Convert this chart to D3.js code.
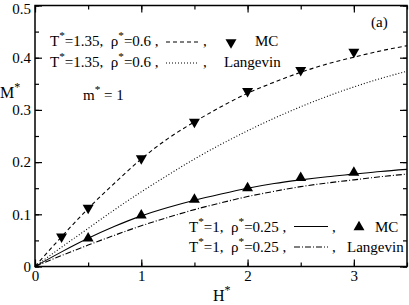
<!DOCTYPE html>
<html>
<head>
<meta charset="utf-8">
<script src="https://cdn.jsdelivr.net/npm/d3@7"></script>
<style>
body { margin: 0; background: #fff; }
text { font-family: "Liberation Serif", "Times New Roman", serif; fill: #000; white-space: pre; }
</style>
</head>
<body>
<svg width="409" height="305"></svg>
<script>
// H* grid for the fitted / Langevin curves
var hGrid = [0, 0.25, 0.5, 0.75, 1, 1.25, 1.5, 1.75, 2, 2.25, 2.5, 2.75, 3, 3.25, 3.5];
// T*=1.35, rho*=0.6
var fitHigh = [0, 0.057, 0.111, 0.160, 0.206, 0.245, 0.277, 0.306, 0.332, 0.353, 0.372, 0.388, 0.401, 0.413, 0.423];
var langHigh = [0, 0.037, 0.073, 0.109, 0.143, 0.175, 0.206, 0.234, 0.260, 0.284, 0.306, 0.326, 0.344, 0.360, 0.374];
// T*=1, rho*=0.25
var fitLow = [0, 0.028, 0.054, 0.077, 0.097, 0.113, 0.127, 0.139, 0.150, 0.159, 0.166, 0.172, 0.177, 0.182, 0.186];
var langLow = [0, 0.021, 0.041, 0.060, 0.078, 0.094, 0.109, 0.122, 0.134, 0.144, 0.153, 0.160, 0.166, 0.172, 0.177];
// Monte Carlo points
var mcHighH = [0.25, 0.5, 1, 1.5, 2, 2.5, 3];
var mcHighM = [0.057, 0.112, 0.207, 0.277, 0.336, 0.376, 0.411];
var mcLowH = [0.5, 1, 1.5, 2, 2.5, 3];
var mcLowM = [0.054, 0.098, 0.128, 0.150, 0.170, 0.180];

var xTicks = [0, 1, 2, 3];
var yTicks = [0, 0.1, 0.2, 0.3, 0.4, 0.5];

var svg = d3.select("svg");
var x = d3.scaleLinear().domain([0, 3.5]).range([35, 407]);
var y = d3.scaleLinear().domain([0, 0.5]).range([266.5, 5.5]);

var xMinor = d3.range(0, 3.51, 0.5), yMinor = d3.range(0, 0.501, 0.05);

function ax(gen, tr, ticks, size, labels) {
  var g = svg.append("g").attr("transform", tr)
    .call(gen.tickValues(ticks).tickSize(size).tickPadding(4)
      .tickFormat(labels ? d3.format("~g") : ""));
  g.select(".domain").remove();
  g.selectAll("line").attr("stroke", "#000").attr("stroke-width", 1.2);
  g.selectAll("text").style("font-size", "15px").style("font-family", "Liberation Serif");
  return g;
}
ax(d3.axisBottom(x), "translate(0,266.5)", xMinor, -4, false);
ax(d3.axisBottom(x), "translate(0,266.5)", xTicks, -7, true);
ax(d3.axisTop(x), "translate(0,5.5)", xMinor, -4, false);
ax(d3.axisTop(x), "translate(0,5.5)", xTicks, -7, false);
ax(d3.axisLeft(y), "translate(35,0)", yMinor, -4, false);
var yl = ax(d3.axisLeft(y), "translate(35,0)", yTicks, -7, true);
yl.selectAll("text").filter(function(d) { return d === 0.5; }).attr("dy", "0.5em");
ax(d3.axisRight(y), "translate(407,0)", yMinor, -4, false);
ax(d3.axisRight(y), "translate(407,0)", yTicks, -7, false);

svg.append("rect").attr("x", 35).attr("y", 5.5).attr("width", 372).attr("height", 261)
  .attr("fill", "none").attr("stroke", "#000").attr("stroke-width", 1.5);

var line = d3.line().x(function(d) { return x(d[0]); }).y(function(d) { return y(d[1]); })
  .curve(d3.curveMonotoneX);
function curve(vals, dash) {
  svg.append("path").datum(hGrid.map(function(h, i) { return [h, vals[i]]; }))
    .attr("d", line).attr("fill", "none").attr("stroke", "#000")
    .attr("stroke-width", 1.1).attr("stroke-dasharray", dash);
}
curve(fitHigh, "4,3");
curve(langHigh, "1,2");
curve(fitLow, null);
curve(langLow, "6,2,1,2");

var tri = d3.symbol().type(d3.symbolTriangle).size(52);
function marks(hs, ms, rot) {
  svg.selectAll(null).data(hs).enter().append("path")
    .attr("d", tri)
    .attr("transform", function(d, i) { return "translate(" + x(d) + "," + y(ms[i]) + ") rotate(" + rot + ")"; })
    .attr("fill", "#000");
}
marks(mcHighH, mcHighM, 180);
marks(mcLowH, mcLowM, 0);

// text with superscript asterisks
function label(px, py, parts, size) {
  var t = svg.append("text").attr("x", px).attr("y", py).style("font-size", size + "px");
  var shift = 0;
  parts.forEach(function(p) {
    if (p === "*") {
      t.append("tspan").attr("dy", -7 - shift).style("font-size", (size * 0.75) + "px").text("*");
      shift = -7;
    } else {
      t.append("tspan").attr("dy", -shift).text(p);
      shift = 0;
    }
  });
  return t;
}
function sample(x1, x2, yy, dash) {
  svg.append("line").attr("x1", x1).attr("x2", x2).attr("y1", yy).attr("y2", yy)
    .attr("stroke", "#000").attr("stroke-width", 1.1).attr("stroke-dasharray", dash);
}
function legTri(px, py, rot) {
  svg.append("path").attr("d", tri).attr("fill", "#000")
    .attr("transform", "translate(" + px + "," + py + ") rotate(" + rot + ")");
}

label(50, 46, ["T", "*", "=1.35,  \u03c1", "*", "=0.6 ,"], 15);
sample(166, 198, 42, "4,3");
label(203, 46, [","], 15);
legTri(231, 42.5, 180);
label(255, 46, ["MC"], 15);

label(50, 67, ["T", "*", "=1.35,  \u03c1", "*", "=0.6 ,"], 15);
sample(166, 198, 63, "1,2");
label(203, 67, [","], 15);
label(224, 67, ["Langevin"], 15);

label(83, 100, ["m", "*", " = 1"], 15);
label(371, 27, ["(a)"], 15);

label(189, 231.5, ["T", "*", "=1,  \u03c1", "*", "=0.25 ,"], 15);
sample(294, 328, 226.5, null);
label(332, 231.5, [","], 15);
legTri(359, 227, 0);
label(375, 231.5, ["MC"], 15);

label(189, 251.5, ["T", "*", "=1,  \u03c1", "*", "=0.25 ,"], 15);
sample(294, 328, 247, "6,2,1,2");
label(332, 251.5, [","], 15);
label(347, 251.5, ["Langevin"], 15);

label(0, 98, ["M", "*"], 16);
label(213, 301, ["H", "*"], 16);
</script>
</body>
</html>
